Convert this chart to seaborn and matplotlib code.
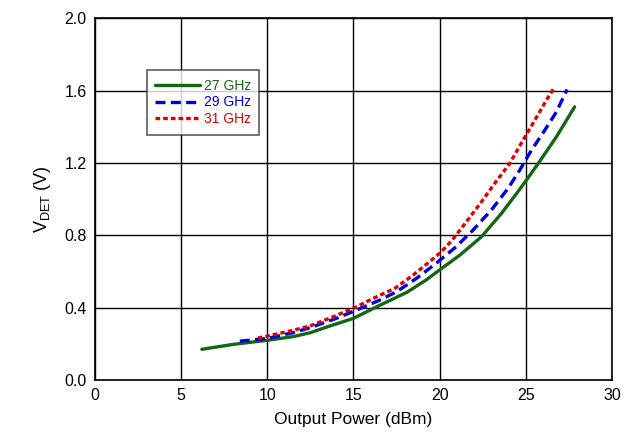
# V_DET vs output power
import pandas as pd
import seaborn as sns
import matplotlib
matplotlib.use('Agg')
import matplotlib.pyplot as plt

x27 = [6.2, 8.0, 10.0, 11.5, 12.5, 13.6, 15.0, 16.5, 18.1, 19.2, 20.05, 21.17,
       22.43, 23.59, 24.46, 25.04, 25.71, 26.78, 27.84]
y27 = [0.17, 0.197, 0.22, 0.24, 0.262, 0.298, 0.341, 0.412, 0.485, 0.552, 0.612, 0.69,
       0.792, 0.921, 1.03, 1.105, 1.195, 1.344, 1.51]

x29 = [8.4, 10.0, 11.5, 12.5, 14.0, 15.18, 16.53, 17.5, 18.66, 19.82, 20.95,
       21.94, 23.0, 23.97, 24.65, 25.33, 26.1, 26.78, 27.4]
y29 = [0.215, 0.23, 0.262, 0.29, 0.341, 0.387, 0.442, 0.488, 0.562, 0.647, 0.736,
       0.829, 0.939, 1.059, 1.16, 1.27, 1.38, 1.482, 1.606]

x31 = [9.45, 10.0, 11.5, 12.5, 13.83, 15.08, 16.34, 17.4, 18.46, 19.53, 20.1,
       20.7, 21.56, 22.43, 23.2, 24.07, 24.75, 25.42, 26.2, 26.68]
y31 = [0.232, 0.243, 0.275, 0.30, 0.35, 0.401, 0.46, 0.507, 0.58, 0.663, 0.709,
       0.77, 0.875, 0.985, 1.087, 1.197, 1.31, 1.418, 1.547, 1.62]

labels = ['27 GHz', '29 GHz', '31 GHz']

df = pd.concat([
    pd.DataFrame({'P': x27, 'V': y27, 'f': labels[0]}),
    pd.DataFrame({'P': x29, 'V': y29, 'f': labels[1]}),
    pd.DataFrame({'P': x31, 'V': y31, 'f': labels[2]}),
])

sns.set_style('white')
plt.rcParams['font.family'] = ['Liberation Sans', 'DejaVu Sans']
plt.rcParams['mathtext.fontset'] = 'custom'
plt.rcParams['mathtext.rm'] = 'Liberation Sans'
plt.rcParams['text.color'] = 'black'
plt.rcParams['axes.labelcolor'] = 'black'
plt.rcParams['xtick.color'] = 'black'
plt.rcParams['ytick.color'] = 'black'

colors = {'27 GHz': '#146614', '29 GHz': '#0000dd', '31 GHz': '#e00000'}
dashes = {'27 GHz': '', '29 GHz': (3, 1.6), '31 GHz': (1.4, 0.9)}

fig = plt.figure(figsize=(6.38, 4.44), dpi=100)
ax = fig.add_axes([0.149, 0.144, 0.81, 0.815])

sns.lineplot(data=df, x='P', y='V', hue='f', style='f', palette=colors,
             dashes=dashes, linewidth=2.4, ax=ax, sort=False)

ax.set_xlim(0, 30)
ax.set_ylim(0, 2.0)
ax.set_xticks(range(0, 31, 5))
ax.set_yticks([0.0, 0.4, 0.8, 1.2, 1.6, 2.0])
ax.set_yticklabels(['0.0', '0.4', '0.8', '1.2', '1.6', '2.0'])
ax.grid(True, color='black', linewidth=1.0)
ax.set_axisbelow(True)
for s in ax.spines.values():
    s.set_color('black')
    s.set_linewidth(1.2)
ax.tick_params(labelsize=11.5, length=0, pad=6)
ax.set_xlabel('Output Power (dBm)', fontsize=12.5, labelpad=6)
ax.set_ylabel('V$_{\\mathrm{DET}}$ (V)', fontsize=13, labelpad=8)

leg = ax.legend(loc='upper left', bbox_to_anchor=(0.1, 0.856), fontsize=10,
                frameon=True, fancybox=False, edgecolor='#333333',
                handlelength=3.2, handletextpad=0.3, borderpad=0.6,
                labelspacing=0.2, borderaxespad=0)
leg.get_frame().set_linewidth(1.2)
for t in leg.get_texts():
    t.set_color(colors[t.get_text()])

fig.savefig('out.png', dpi=100)
